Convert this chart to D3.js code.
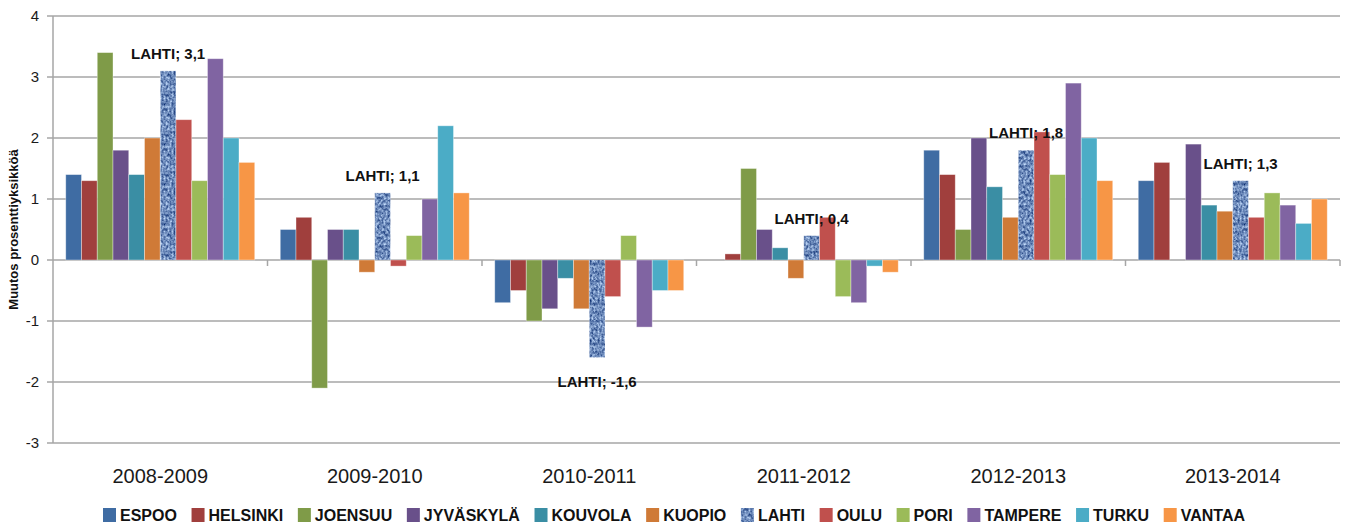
<!DOCTYPE html>
<html>
<head>
<meta charset="utf-8">
<script src="https://cdn.jsdelivr.net/npm/d3@7"></script>
<style>
    body { margin: 0; background: #fff; }
    .grid line { stroke: #a6a6a6; stroke-width: 1.5; }
    .tick-label { font-family: "Liberation Sans", Arial, sans-serif; font-size: 15px; fill: #1a1a1a; }
    .cat-label { font-family: "Liberation Sans", Arial, sans-serif; font-size: 20px; fill: #1a1a1a; }
    .bold { font-family: "Liberation Sans", Arial, sans-serif; font-weight: bold; fill: #111; }
</style>
</head>
<body>
<script>
"use strict";

const categories = ["2008-2009", "2009-2010", "2010-2011", "2011-2012", "2012-2013", "2013-2014"];
const cities = ["ESPOO", "HELSINKI", "JOENSUU", "JYVÄSKYLÄ", "KOUVOLA", "KUOPIO",
    "LAHTI", "OULU", "PORI", "TAMPERE", "TURKU", "VANTAA"];
const colors = ["#3f6ca3", "#a03f3d", "#7f9b48", "#69508a", "#3a8ea4", "#cf7a37",
    "url(#lahti)", "#c0504d", "#9bbb59", "#8064a2", "#4bacc6", "#f79646"];

// one array per city, in the order of categories
const espoo = [1.4, 0.5, -0.7, null, 1.8, 1.3];
const helsinki = [1.3, 0.7, -0.5, 0.1, 1.4, 1.6];
const joensuu = [3.4, -2.1, -1.0, 1.5, 0.5, null];
const jyvaskyla = [1.8, 0.5, -0.8, 0.5, 2.0, 1.9];
const kouvola = [1.4, 0.5, -0.3, 0.2, 1.2, 0.9];
const kuopio = [2.0, -0.2, -0.8, -0.3, 0.7, 0.8];
const lahti = [3.1, 1.1, -1.6, 0.4, 1.8, 1.3];
const oulu = [2.3, -0.1, -0.6, 0.7, 2.1, 0.7];
const pori = [1.3, 0.4, 0.4, -0.6, 1.4, 1.1];
const tampere = [3.3, 1.0, -1.1, -0.7, 2.9, 0.9];
const turku = [2.0, 2.2, -0.5, -0.1, 2.0, 0.6];
const vantaa = [1.6, 1.1, -0.5, -0.2, 1.3, 1.0];

const yTicks = [-3, -2, -1, 0, 1, 2, 3, 4];

const seriesValues = [espoo, helsinki, joensuu, jyvaskyla, kouvola, kuopio,
    lahti, oulu, pori, tampere, turku, vantaa];

let width = 1348,
    height = 526,
    plotLeft = 53,
    plotRight = 1340,
    plotTop = 16,
    plotBottom = 443;

let svg = d3.select("body").append("svg")
    .attr("width", width)
    .attr("height", height);

let defs = svg.append("defs");

// mottled blue texture for LAHTI
let filter = defs.append("filter")
    .attr("id", "mottle")
    .attr("color-interpolation-filters", "sRGB")
    .attr("x", "0").attr("y", "0")
    .attr("width", "1").attr("height", "1");
filter.append("feTurbulence")
    .attr("type", "fractalNoise")
    .attr("baseFrequency", "0.5 0.35")
    .attr("numOctaves", 2)
    .attr("seed", 3);
// map the red noise channel onto a navy .. light blue ramp
filter.append("feColorMatrix")
    .attr("type", "matrix")
    .attr("values", "1.05 0 0 0 -0.1  1.0 0 0 0 0.04  0.8 0 0 0 0.33  0 0 0 0 1");
filter.append("feComposite")
    .attr("in2", "SourceGraphic")
    .attr("operator", "in");

let pat = defs.append("pattern")
    .attr("id", "lahti")
    .attr("patternUnits", "userSpaceOnUse")
    .attr("width", 40).attr("height", 40);
pat.append("rect")
    .attr("width", 40).attr("height", 40)
    .attr("fill", "#5f86c8")
    .attr("filter", "url(#mottle)");

let y = d3.scaleLinear()
    .domain([-3, 4])
    .range([plotBottom, plotTop]);

let x0 = d3.scaleBand()
    .domain(categories)
    .range([plotLeft, plotRight]);

let x1 = d3.scaleBand()
    .domain(cities)
    .range([0, x0.bandwidth()])
    .paddingOuter(0.81);

// gridlines
svg.append("g").attr("class", "grid")
    .selectAll("line")
    .data(yTicks)
    .enter().append("line")
    .attr("x1", plotLeft - 6)
    .attr("x2", plotRight)
    .attr("y1", d => y(d))
    .attr("y2", d => y(d));

svg.append("line")
    .attr("x1", plotLeft).attr("x2", plotLeft)
    .attr("y1", plotTop).attr("y2", plotBottom)
    .attr("stroke", "#a6a6a6").attr("stroke-width", 1.5);

// category ticks on the zero line
let boundaries = categories.map(c => x0(c) + x0.bandwidth());
svg.append("g")
    .selectAll("line")
    .data(boundaries)
    .enter().append("line")
    .attr("x1", d => d).attr("x2", d => d)
    .attr("y1", y(0)).attr("y2", y(0) + 6)
    .attr("stroke", "#a6a6a6").attr("stroke-width", 1.5);

svg.append("g")
    .selectAll("text")
    .data(yTicks)
    .enter().append("text")
    .attr("class", "tick-label")
    .attr("x", 39)
    .attr("y", d => y(d) + 5)
    .attr("text-anchor", "end")
    .text(d => d);

svg.append("text")
    .attr("class", "bold")
    .attr("transform", "translate(18," + ((plotTop + plotBottom) / 2) + ") rotate(-90)")
    .attr("text-anchor", "middle")
    .style("font-size", "13px")
    .text("Muutos prosenttiyksikköä");

svg.append("g")
    .selectAll("text")
    .data(categories)
    .enter().append("text")
    .attr("class", "cat-label")
    .attr("x", d => x0(d) + x0.bandwidth() / 2)
    .attr("y", 483)
    .attr("text-anchor", "middle")
    .text(d => d);

// bars
let bars = [];
cities.forEach(function (city, s) {
    seriesValues[s].forEach(function (v, c) {
        if (v === null) return;
        bars.push({city: city, s: s, cat: categories[c], value: v});
    });
});

svg.append("g")
    .selectAll("rect")
    .data(bars)
    .enter().append("rect")
    .attr("x", d => x0(d.cat) + x1(d.city))
    .attr("width", x1.bandwidth())
    .attr("y", d => y(Math.max(0, d.value)))
    .attr("height", d => Math.abs(y(d.value) - y(0)))
    .attr("fill", d => colors[d.s])
    .attr("stroke", "rgba(255,255,255,0.45)")
    .attr("stroke-width", 0.8);

// LAHTI data labels
let lahtiIdx = cities.indexOf("LAHTI");
svg.append("g")
    .selectAll("text")
    .data(bars.filter(d => d.s === lahtiIdx))
    .enter().append("text")
    .attr("class", "bold")
    .style("font-size", "15px")
    .attr("text-anchor", "middle")
    .attr("x", d => x0(d.cat) + x1(d.city) + x1.bandwidth() / 2)
    .attr("y", d => d.value >= 0 ? y(d.value) - 12 : y(d.value) + 29)
    .text(d => "LAHTI; " + String(d.value).replace(".", ","));

// legend, laid out by measured text widths
let legend = svg.append("g");
let items = legend.selectAll("g")
    .data(cities)
    .enter().append("g");
items.append("rect")
    .attr("width", 13).attr("height", 14)
    .attr("y", 508)
    .attr("fill", (d, i) => colors[i]);
items.append("text")
    .attr("class", "bold")
    .style("font-size", "16px")
    .attr("x", 17)
    .attr("y", 521)
    .text(d => d);

let widths = [];
items.each(function () {
    widths.push(17 + d3.select(this).select("text").node().getComputedTextLength());
});
let total = d3.sum(widths);
let gap = (1245 - 103 - total) / (cities.length - 1);
let pos = 103;
items.each(function (d, i) {
    d3.select(this).attr("transform", "translate(" + pos + ",0)");
    pos += widths[i] + gap;
});
</script>
</body>
</html>
